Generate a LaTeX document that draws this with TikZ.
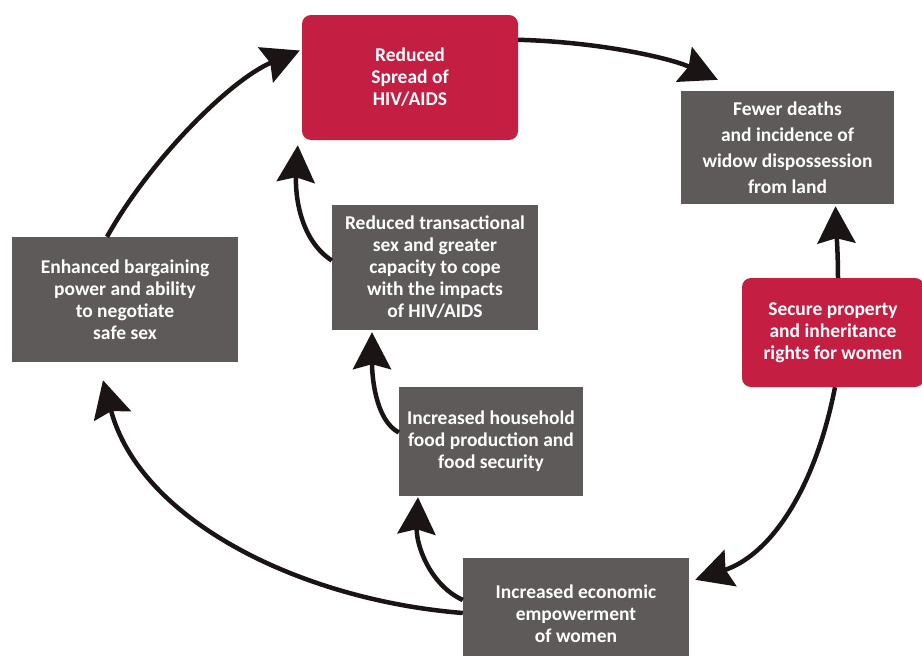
\documentclass[tikz,border=0pt]{standalone}
\usepackage{fontspec}
\setmainfont{Carlito}
\usetikzlibrary{arrows.meta}
\definecolor{redbox}{HTML}{C41E42}
\definecolor{greybox}{HTML}{5E5A59}
\definecolor{arrowc}{HTML}{1A1414}
\begin{document}
\begin{tikzpicture}[x=1pt,y=-1pt,
  box/.style={draw=none,inner sep=0pt,align=center,text=white,
    font=\bfseries\fontsize{19.5}{22}\selectfont},
  redb/.style={box,fill=redbox,rounded corners=9pt},
  greyb/.style={box,fill=greybox},
  conn/.style={draw=arrowc,line width=4.5pt,
    -{Stealth[length=37pt,width=38pt,inset=5pt]}}]
\useasboundingbox (0,0) rectangle (922,656);
\fill[white] (0,0) rectangle (922,656);
\node[redb,minimum width=216pt,minimum height=125pt] (red) at (410,77.5) {Reduced\\Spread of\\HIV/AIDS};
\node[greyb,minimum width=213pt,minimum height=113pt,font=\bfseries\fontsize{19.5}{26}\selectfont] (fewer) at (787.5,147.5) {Fewer deaths\\and incidence of\\widow dispossession\\from land};
\node[redb,minimum width=182pt,minimum height=109pt] (secure) at (833,332.5) {Secure property\\and inheritance\\rights for women};
\node[greyb,minimum width=226pt,minimum height=112pt] (econ) at (576,614) {Increased economic\\empowerment\\of women};
\node[greyb,minimum width=184pt,minimum height=109pt] (food) at (491,441.5) {Increased household\\food production and\\food security};
\node[greyb,minimum width=206pt,minimum height=125pt] (trans) at (435,267.5) {Reduced transactional\\sex and greater\\capacity to cope\\with the impacts\\of HIV/AIDS};
\node[greyb,minimum width=226pt,minimum height=125pt] (barg) at (125,299.5) {Enhanced bargaining\\power and ability\\to negotiate\\safe sex};
\draw[conn] ([yshift=-25pt]red.north east) .. controls (600,42) and (670,58) .. ([shift={(37pt,11pt)}]fewer.north west);
\draw[conn] ([xshift=5pt]secure.north) .. controls (838,250) and (836,225) .. ([shift={(48pt,-2pt)}]fewer.south);
\draw[conn] ([xshift=2pt]secure.south) .. controls (815,490) and (770,555) .. ([shift={(6pt,-22pt)}]econ.north east);
\draw[conn] ([yshift=1pt]econ.west) .. controls (300,600) and (140,520) .. ([shift={(-22pt,-18pt)}]barg.south);
\draw[conn] ([yshift=14pt]econ.west) .. controls (430,585) and (416,545) .. ([shift={(-73pt,-1pt)}]food.south);
\draw[conn] ([yshift=9pt]food.west) .. controls (375,420) and (372,375) .. ([shift={(-63pt,-2pt)}]trans.south);
\draw[conn] ([yshift=7pt]trans.west) .. controls (300,240) and (295,195) .. ([shift={(-4pt,-5pt)}]red.south west);
\draw[conn] ([xshift=-18pt]barg.north) .. controls (150,160) and (230,80) .. ([shift={(-2pt,27pt)}]red.west);
\end{tikzpicture}
\end{document}
